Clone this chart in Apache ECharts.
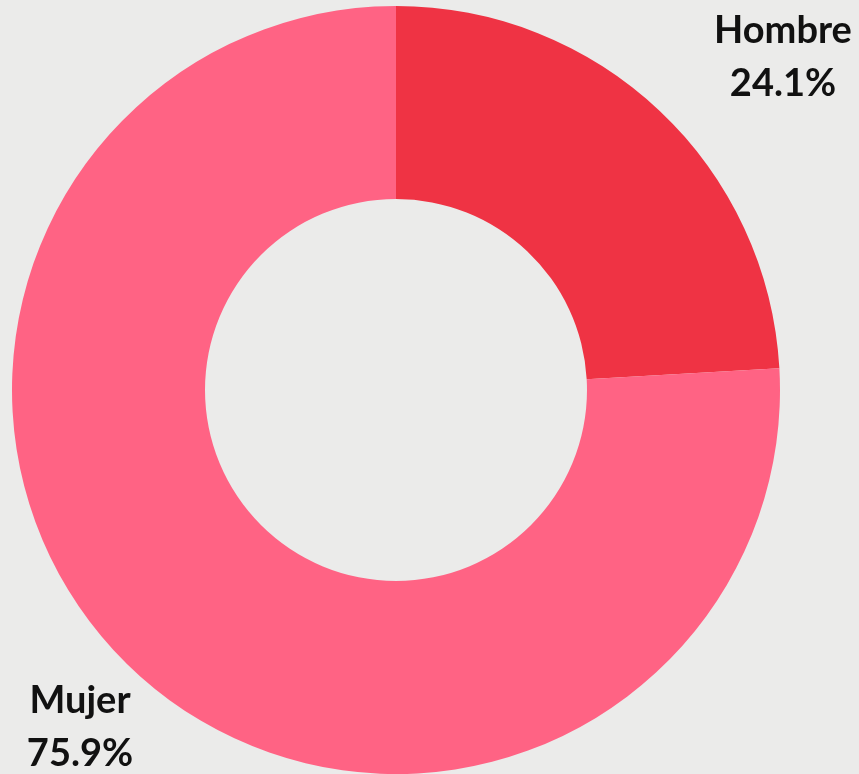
<!DOCTYPE html>
<html lang="es">
<head>
    <meta charset="UTF-8">
    <title>Hombre / Mujer</title>
    <style>
        html, body { margin: 0; padding: 0; background: #ebebea; }
        #box { width: 859px; height: 774px; }
    </style>
</head>
<body>
    <div id="box"></div>
    <script src="https://cdn.jsdelivr.net/npm/echarts@6/dist/echarts.min.js"></script>
    <script>
        // datos
        var categories = ['Hombre', 'Mujer'];
        var values = [24.1, 75.9];
        var colors = ['#ef3344', '#ff6384'];
        // posiciones de las etiquetas (centro del texto)
        var labelPos = [[783, 57], [80, 727]];

        var myChart = echarts.init(document.getElementById('box'));

        var option = {
            backgroundColor: 'transparent',
            animation: false,
            series: [{
                type: 'pie',
                center: [396, 390],
                radius: [191, 384],
                startAngle: 90,
                clockwise: true,
                data: categories.map(function (name, i) {
                    return { name: name, value: values[i], itemStyle: { color: colors[i] } };
                }),
                label: {
                    show: true,
                    position: 'outside',
                    formatter: function (p) { return p.name + '\n' + p.value.toFixed(1) + '%'; },
                    color: '#111',
                    fontFamily: 'Lato',
                    fontWeight: 'bold',
                    fontSize: 38,
                    lineHeight: 53,
                    align: 'center',
                    overflow: 'none'
                },
                labelLine: { show: false },
                labelLayout: function (params) {
                    var p = labelPos[params.dataIndex];
                    return { x: p[0], y: p[1], align: 'center', verticalAlign: 'middle' };
                },
                emphasis: { disabled: true }
            }]
        };
        myChart.setOption(option);

        window.addEventListener('resize', function () {
            myChart.resize();
        });
    </script>
</body>
</html>
